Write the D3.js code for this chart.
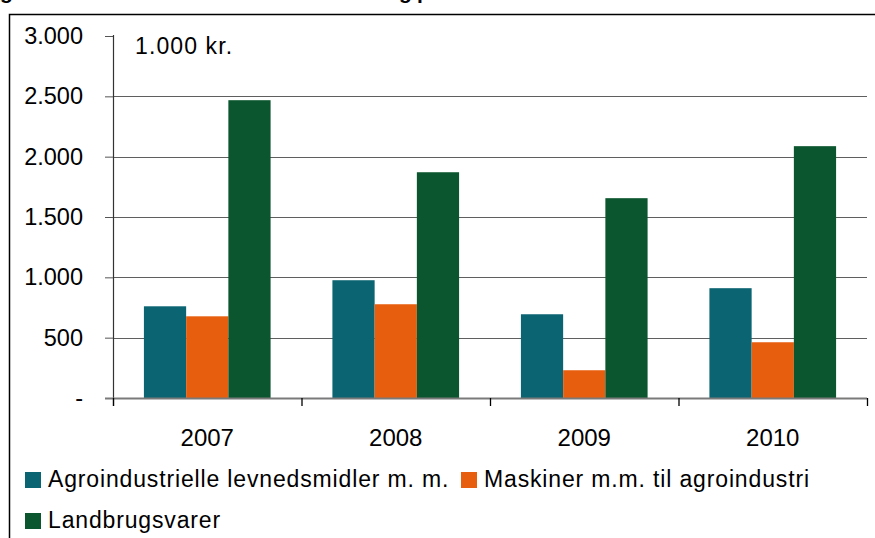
<!DOCTYPE html>
<html>
<head>
<meta charset="utf-8">
<script src="https://cdn.jsdelivr.net/npm/d3@7"></script>
<style>
  html, body { margin: 0; padding: 0; background: #fff; }
  svg { display: block; font-family: "Liberation Sans", Arial, sans-serif; }
</style>
</head>
<body>
<div id="chart-container"></div>
<script>
// data
const years = ["2007", "2008", "2009", "2010"];
const seriesNames = [
  "Agroindustrielle levnedsmidler m. m.",
  "Maskiner m.m. til agroindustri",
  "Landbrugsvarer"
];
const agroValues = [760, 976, 694, 910];
const maskinerValues = [677, 777, 230, 462];
const landbrugValues = [2468, 1871, 1656, 2087];
const yTicks = [0, 500, 1000, 1500, 2000, 2500, 3000];
const seriesColors = ["#0a6472", "#e85e0f", "#0b562e"];
const titleText = "gur 3. Dansk handel med Ukraine fordeling på varer";

const seriesValues = [agroValues, maskinerValues, landbrugValues];

/**************************************************
 * Rendering
 **************************************************/
function renderChart() {
  const width = 875, height = 538;
  const svg = d3.select("#chart-container")
    .append("svg")
    .attr("width", width)
    .attr("height", height);

  const left = 113, right = 867, top = 36, bottom = 398;

  // cropped title, only the descenders peek in
  const title = svg.append("text")
    .attr("x", 0)
    .attr("y", -1)
    .attr("font-weight", "bold")
    .attr("font-size", "21px")
    .attr("fill", "#000")
    .text(titleText);
  // spread the letters so the second "g" lands where it does in the picture
  const gIdx = titleText.indexOf("g", 1);
  const prefixLen = title.node().getSubStringLength(0, gIdx);
  title.attr("letter-spacing", ((399 - prefixLen) / gIdx).toFixed(2) + "px");

  // outer frame (left and top edge)
  svg.append("path")
    .attr("d", `M9.5,${height} V14.5 H${width}`)
    .attr("fill", "none")
    .attr("stroke", "#000")
    .attr("stroke-width", 1.5);

  const y = d3.scaleLinear().domain([0, 3000]).range([bottom, top]);
  const x0 = d3.scaleBand().domain(years).range([left, right])
    .paddingInner(0.328).paddingOuter(0.164);
  const x1 = d3.scaleBand().domain(d3.range(seriesNames.length)).range([0, x0.bandwidth()]);

  // gridlines
  svg.append("g")
    .selectAll("line")
    .data(yTicks.filter(d => d > 0 && d < 3000))
    .join("line")
    .attr("x1", left).attr("x2", right)
    .attr("y1", d => Math.round(y(d)) + 0.5)
    .attr("y2", d => Math.round(y(d)) + 0.5)
    .attr("stroke", "#5f5f5f")
    .attr("stroke-width", 1);

  // bars
  const groups = svg.append("g")
    .selectAll("g")
    .data(years)
    .join("g")
    .attr("transform", d => `translate(${x0(d)},0)`);

  groups.selectAll("rect")
    .data((d, i) => seriesValues.map((vals, s) => ({ s: s, v: vals[i] })))
    .join("rect")
    .attr("x", d => x1(d.s))
    .attr("y", d => y(d.v))
    .attr("width", x1.bandwidth())
    .attr("height", d => bottom - y(d.v))
    .attr("fill", d => seriesColors[d.s]);

  // y axis
  const yAxis = svg.append("g")
    .attr("transform", `translate(${left},0)`)
    .call(d3.axisLeft(y)
      .tickValues(yTicks)
      .tickSize(8)
      .tickPadding(22)
      .tickFormat(d => d === 0 ? "-" : d3.format(",")(d).replace(/,/g, ".")));
  yAxis.select(".domain").attr("stroke", "#333").attr("stroke-width", 1.2)
    .attr("d", `M0.5,${top - 1} V${bottom + 8}`);
  yAxis.selectAll(".tick line").attr("stroke", "#555");
  yAxis.selectAll("text")
    .attr("font-family", "Liberation Sans, Arial, sans-serif")
    .attr("font-size", "23.5px")
    .attr("fill", "#000");

  // x axis
  const xAxis = svg.append("g")
    .attr("transform", `translate(0,${bottom})`)
    .call(d3.axisBottom(d3.scaleLinear().domain([0, years.length]).range([left, right]))
      .tickValues(d3.range(years.length + 1))
      .tickSize(8)
      .tickFormat(""));
  xAxis.select(".domain").attr("stroke", "#7a7a7a").attr("stroke-width", 2)
    .attr("d", `M${left - 8},0.5 H${right}`);
  xAxis.selectAll(".tick line").attr("stroke", "#000").attr("stroke-width", 1.3);

  svg.append("g")
    .selectAll("text")
    .data(years)
    .join("text")
    .attr("x", d => x0(d) + x0.bandwidth() / 2)
    .attr("y", 446)
    .attr("text-anchor", "middle")
    .attr("font-size", "24px")
    .attr("fill", "#000")
    .text(d => d);

  // unit label
  svg.append("text")
    .attr("x", 135)
    .attr("y", 54)
    .attr("font-size", "23px")
    .attr("letter-spacing", "1.1px")
    .attr("fill", "#000")
    .text("1.000 kr.");

  // legend
  const legendItems = [
    { s: 0, x: 25, y: 472, tx: 48 },
    { s: 1, x: 461, y: 472, tx: 484 },
    { s: 2, x: 25, y: 513, tx: 48 }
  ];
  const legend = svg.append("g");
  legendItems.forEach(it => {
    legend.append("rect")
      .attr("x", it.x).attr("y", it.y)
      .attr("width", 16).attr("height", 16)
      .attr("fill", seriesColors[it.s]);
    legend.append("text")
      .attr("x", it.tx)
      .attr("y", it.y + 15)
      .attr("font-size", "23px")
      .attr("letter-spacing", "0.85px")
      .attr("fill", "#000")
      .text(seriesNames[it.s]);
  });
}

renderChart();
</script>
</body>
</html>
